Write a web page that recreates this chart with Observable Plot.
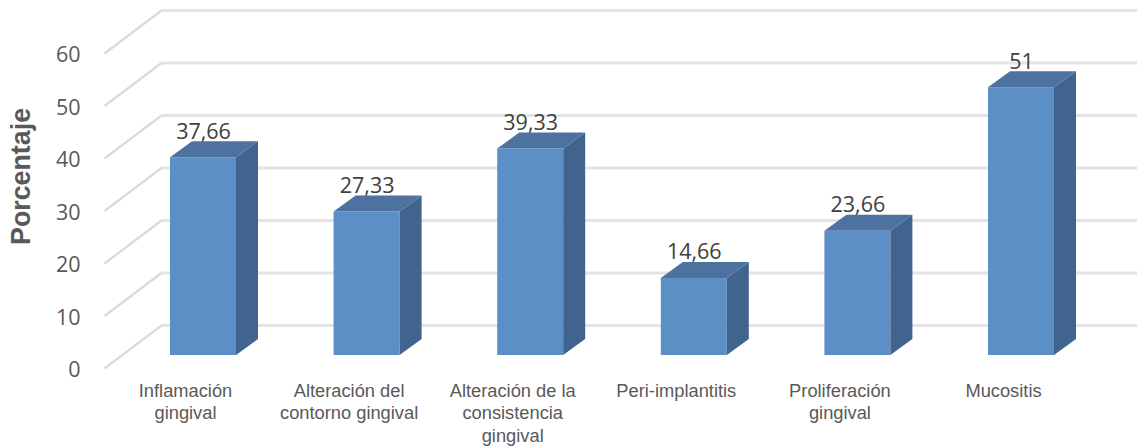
<!DOCTYPE html>
<html>
<head>
<meta charset="utf-8">
<script src="https://cdn.jsdelivr.net/npm/d3@7"></script>
<script src="https://cdn.jsdelivr.net/npm/@observablehq/plot@0.6"></script>
<style>
  html, body { margin: 0; padding: 0; background: #fff; }
  svg { display: block; }
</style>
</head>
<body>
<div id="chart"></div>
<script>
const categories = [
  "Inflamación\ngingival",
  "Alteración del\ncontorno gingival",
  "Alteración de la\nconsistencia\ngingival",
  "Peri-implantitis",
  "Proliferación\ngingival",
  "Mucositis"
];
const values = [37.66, 27.33, 39.33, 14.66, 23.66, 51];
const valueLabels = ["37,66", "27,33", "39,33", "14,66", "23,66", "51"];
const ticks = [0, 10, 20, 30, 40, 50, 60];

// Extents of the pseudo-3D box, in scale units
const unitX = 163.6, unitY = 5.25;
const barHalf = 33 / unitX;
const depthX = 22 / unitX, depthY = 16 / unitY;

const bars = values.map((value, i) => ({
  i, value, label: valueLabels[i], category: categories[i],
  left: i - barHalf, right: i + barHalf
}));

// Side face: parallelogram running back from the right edge of each bar
const sideFace = bars.flatMap(b => [
  {i: b.i, x: b.right, y1: 0, y2: b.value},
  {i: b.i, x: b.right + depthX, y1: depthY, y2: b.value + depthY}
]);
// Top face: parallelogram running back from the top edge of each bar
const topFace = bars.flatMap(b => [
  {i: b.i, y: b.value, x1: b.left, x2: b.right},
  {i: b.i, y: b.value + depthY, x1: b.left + depthX, x2: b.right + depthX}
]);

const floorX = -99 / unitX, wallX = -42 / unitX, endX = 934 / unitX;
const wallRise = 30 / unitY, floorDrop = 13 / unitY;

const chart = Plot.plot({
  width: 1137,
  height: 447,
  marginLeft: 104,
  marginRight: 0,
  marginTop: 40,
  marginBottom: 92,
  x: {type: "linear", domain: [floorX, endX], axis: null},
  y: {domain: [0, 60], axis: null},
  style: {background: "#fff"},
  marks: [
    // Back wall gridlines and their diagonals on the side wall
    Plot.link(ticks, {
      x1: wallX, x2: endX,
      y1: d => d + wallRise, y2: d => d + wallRise,
      stroke: "#e4e4e4", strokeWidth: 2.8
    }),
    Plot.link(ticks, {
      x1: floorX, x2: wallX,
      y1: d => d - floorDrop, y2: d => d + wallRise,
      stroke: "#dadada", strokeWidth: 2.2
    }),
    // Value labels sit just above each bar, partly behind its top face
    Plot.text(bars, {
      x: "i", y: d => d.value, text: "label", dy: -26,
      fill: "#404040", fontSize: 21.5,
      fontFamily: "'Open Sans', sans-serif"
    }),
    // Bar faces
    Plot.rect(bars, {x1: "left", x2: "right", y1: 0, y2: "value", fill: "#5b8fc5"}),
    Plot.areaY(sideFace, {x: "x", y1: "y1", y2: "y2", z: "i", fill: "#41648e"}),
    Plot.areaX(topFace, {y: "y", x1: "x1", x2: "x2", z: "i", fill: "#4d729f"}),
    // Value axis, drawn along the front of the side wall
    Plot.axisY(ticks, {
      anchor: "left", tickSize: 0, tickPadding: 24, dy: 15, label: null,
      fontSize: 21.5, fill: "#595959", stroke: "none",
      fontFamily: "'Open Sans', sans-serif"
    }),
    Plot.text(["Porcentaje"], {
      frameAnchor: "left", dx: -83, y: 34.1, rotate: -90, textAnchor: "middle",
      fontSize: 26.8, fontWeight: "bold", fill: "#595959",
      fontFamily: "'Liberation Sans', sans-serif"
    }),
    // Category labels under the bars
    Plot.text(bars, {
      x: "i", y: 0, text: "category", dx: -18, dy: 25,
      lineAnchor: "top", lineHeight: 1.24,
      fontSize: 18.3, fill: "#595959",
      fontFamily: "'Liberation Sans', sans-serif"
    })
  ]
});
document.getElementById("chart").append(chart);
</script>
</body>
</html>
